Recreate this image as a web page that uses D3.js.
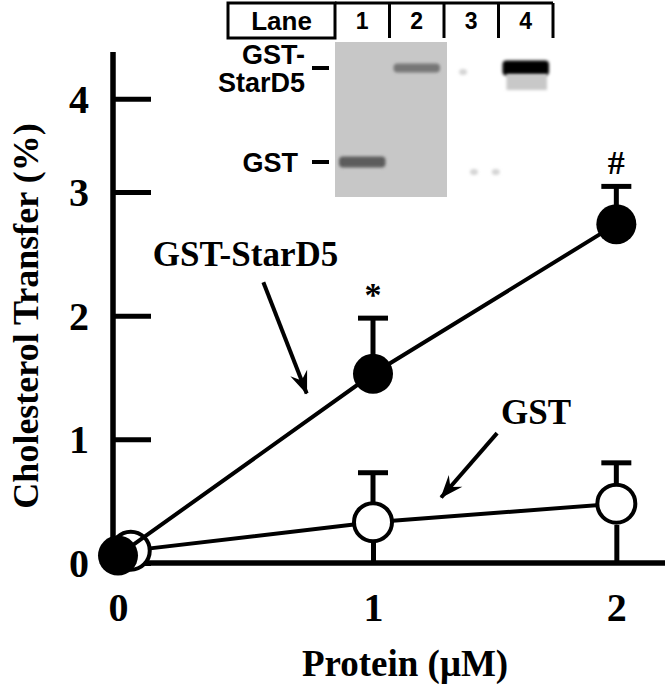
<!DOCTYPE html>
<html>
<head>
<meta charset="utf-8">
<script src="https://cdn.jsdelivr.net/npm/d3@7"></script>
<style>
  body { margin: 0; background: #fff; }
  svg { display: block; }
  .serif { font-family: "Liberation Serif", "Times New Roman", serif; font-weight: bold; }
  .sans { font-family: "Liberation Sans", Arial, sans-serif; font-weight: bold; }
</style>
</head>
<body>
<svg id="chart" width="667" height="684"></svg>
<script>
// data
var xTicks = [0, 1, 2]
var yTicks = [0, 1, 2, 3, 4]

var starX = [0, 1, 2]
var starMean = [0.06, 1.53, 2.74]
var starErr = [0, 0.45, 0.32]
var starNotes = ["", "*", "#"]

var gstX = [0.05, 1, 2]
var gstMean = [0.1, 0.33, 0.48]
var gstErr = [0, 0.40, 0.33]

// inset gel
var lanes = ["1", "2", "3", "4"]
var proteins = ["GST-StarD5", "GST"]
var proteinLabels = [["GST-", "StarD5"], ["GST"]]
var coomassieLanes = ["1", "2"]
var bands = [
  { lane: "1", protein: "GST", tone: "#5c5c5c", h: 11 },
  { lane: "2", protein: "GST-StarD5", tone: "#777777", h: 9 },
  { lane: "4", protein: "GST-StarD5", tone: "#050505", h: 15 }
]

// callouts, in data units
var callouts = [
  { text: "GST-StarD5", at: [0.5, 2.5], from: [0.57, 2.27], to: [0.74, 1.37] },
  { text: "GST", at: [1.67, 1.22], from: [1.51, 1.05], to: [1.28, 0.53] }
]

var svg = d3.select("#chart")
var defs = svg.append("defs")

defs.append("filter").attr("id", "soft")
  .attr("x", "-30%").attr("y", "-100%").attr("width", "160%").attr("height", "300%")
  .append("feGaussianBlur").attr("stdDeviation", 1.8)

defs.append("marker")
  .attr("id", "barb")
  .attr("viewBox", "-24 -10 26 20")
  .attr("refX", 0).attr("refY", 0)
  .attr("markerUnits", "userSpaceOnUse")
  .attr("markerWidth", 26).attr("markerHeight", 20)
  .attr("orient", "auto")
  .append("path")
  .attr("d", "M1,0 L-22,-9 L-14,0 L-22,9 Z")
  .attr("fill", "#000")

// scales (the original axes are slightly uneven, so piecewise)
var x = d3.scaleLinear().domain([0, 1, 2.2]).range([118, 373, 665])
var y = d3.scaleLinear().domain([0, 3, 4.5]).range([563, 192, 52])

// ---- inset ----
var inset = svg.append("g").attr("class", "inset")
var lx = d3.scaleBand().domain(lanes).range([335, 553])
var row = d3.scalePoint().domain(proteins).range([68, 162])

inset.append("rect")
  .attr("x", lx(coomassieLanes[0]))
  .attr("y", 42)
  .attr("width", lx.bandwidth() * coomassieLanes.length + 3)
  .attr("height", 155)
  .attr("fill", "#c7c7c7")

inset.selectAll(".band").data(bands).enter()
  .append("rect")
  .attr("class", "band")
  .attr("x", function (d) { return lx(d.lane) + 4 })
  .attr("y", function (d) { return row(d.protein) - d.h / 2 })
  .attr("width", lx.bandwidth() - 8)
  .attr("height", function (d) { return d.h })
  .attr("rx", 4)
  .attr("fill", function (d) { return d.tone })
  .attr("filter", "url(#soft)")

// smear under the blot band, faint specks in lane 3
inset.append("rect")
  .attr("x", lx("4") + 8)
  .attr("y", row("GST-StarD5") + 6)
  .attr("width", lx.bandwidth() - 14)
  .attr("height", 16)
  .attr("fill", "#c8c8c8")
  .attr("filter", "url(#soft)")
var specks = [["3", "GST-StarD5", 0.35], ["3", "GST", 0.55], ["3", "GST", 0.95]]
inset.selectAll(".speck").data(specks).enter().append("ellipse")
  .attr("cx", function (d) { return lx(d[0]) + lx.bandwidth() * d[2] })
  .attr("cy", function (d) { return row(d[1]) + (d[1] === "GST" ? 10 : 4) })
  .attr("rx", 4).attr("ry", 3)
  .attr("fill", "#d4d4d4")
  .attr("filter", "url(#soft)")

// header row
var hdr = inset.append("g").attr("fill", "none").attr("stroke", "#000").attr("stroke-width", 3)
hdr.append("rect").attr("x", 228).attr("y", 3).attr("width", lx(lanes[0]) - 228).attr("height", 35)
hdr.append("line").attr("x1", lx(lanes[0])).attr("x2", lx.range()[1]).attr("y1", 3).attr("y2", 3)
hdr.selectAll(".sep").data(lanes).enter().append("line")
  .attr("x1", function (d) { return lx(d) + lx.bandwidth() })
  .attr("x2", function (d) { return lx(d) + lx.bandwidth() })
  .attr("y1", 3).attr("y2", 38)

inset.append("text").attr("class", "sans")
  .attr("x", (228 + lx(lanes[0])) / 2).attr("y", 30)
  .attr("text-anchor", "middle").attr("font-size", 26)
  .text("Lane")

inset.selectAll(".lane-num").data(lanes).enter().append("text")
  .attr("class", "sans lane-num")
  .attr("x", function (d) { return lx(d) + lx.bandwidth() / 2 })
  .attr("y", 29).attr("text-anchor", "middle").attr("font-size", 23)
  .text(function (d) { return d })

proteins.forEach(function (p, i) {
  var lines = proteinLabels[i]
  var xr = lines.length > 1 ? 305 : 298
  var t = inset.append("text").attr("class", "sans")
    .attr("text-anchor", "end").attr("font-size", 27)
    .attr("x", xr)
    .attr("y", row(p) + 10 - (lines.length - 1) * 14)
  lines.forEach(function (s, j) {
    t.append("tspan").attr("x", xr).attr("dy", j ? 28 : 0).text(s)
  })
  inset.append("line")
    .attr("x1", 312).attr("x2", 329)
    .attr("y1", row(p)).attr("y2", row(p))
    .attr("stroke", "#000").attr("stroke-width", 4)
})

// ---- axes ----
var yAxis = d3.axisLeft(y).tickValues(yTicks).tickFormat(d3.format("d"))
  .tickSize(-38).tickSizeOuter(0).tickPadding(24)
var xAxis = d3.axisBottom(x).tickValues(xTicks).tickFormat(d3.format("d"))
  .tickSize(-38).tickSizeOuter(0).tickPadding(30)

var gy = svg.append("g").attr("transform", "translate(113,0)").call(yAxis)
gy.select(".domain").attr("d", "M0," + (y(0) + 2.5) + "V" + y(4.5))
var gx = svg.append("g").attr("transform", "translate(0," + y(0) + ")").call(xAxis)
gx.select(".domain").attr("d", "M110.5,0H665")
// the x tick at 0 sits under the y axis and the origin markers
gx.selectAll(".tick line").filter(function (d) { return d === 0 }).remove()

svg.selectAll(".domain").attr("stroke-width", 5.5)
svg.selectAll(".tick line").attr("stroke-width", 5)
svg.selectAll(".tick text").attr("class", "serif").attr("font-size", 40).attr("fill", "#000")
gy.selectAll(".tick text").attr("dy", "0.34em")

// axis titles
svg.append("text").attr("class", "serif")
  .attr("transform", "translate(38,316) rotate(-90)")
  .attr("text-anchor", "middle").attr("font-size", 36)
  .text("Cholesterol Transfer (%)")

svg.append("text").attr("class", "serif")
  .attr("x", 405).attr("y", 676)
  .attr("text-anchor", "middle").attr("font-size", 37)
  .text("Protein (\u03BCM)")

// ---- series ----
var line = d3.line()
  .x(function (d) { return x(d.x) })
  .y(function (d) { return y(d.y) })

function series(xs, means, errs) {
  return xs.map(function (v, i) { return { x: v, y: means[i], e: errs[i], i: i } })
}
var gst = series(gstX, gstMean, gstErr)
var star = series(starX, starMean, starErr)

function drawSeries(data, filled) {
  var g = svg.append("g")
  g.append("path").datum(data).attr("d", line)
    .attr("fill", "none").attr("stroke", "#000").attr("stroke-width", 4)
  var bars = data.filter(function (d) { return d.e > 0 })
  g.selectAll(".err").data(bars).enter().append("line")
    .attr("x1", function (d) { return x(d.x) }).attr("x2", function (d) { return x(d.x) })
    .attr("y1", function (d) { return y(d.y) })
    .attr("y2", function (d) { return y(d.y + d.e) })
    .attr("stroke", "#000").attr("stroke-width", 5)
  g.selectAll(".cap").data(bars).enter().append("line")
    .attr("x1", function (d) { return x(d.x) - 15 }).attr("x2", function (d) { return x(d.x) + 15 })
    .attr("y1", function (d) { return y(d.y + d.e) })
    .attr("y2", function (d) { return y(d.y + d.e) })
    .attr("stroke", "#000").attr("stroke-width", 5)
  g.selectAll("circle").data(data).enter().append("circle")
    .attr("cx", function (d) { return x(d.x) })
    .attr("cy", function (d) { return y(d.y) })
    .attr("r", filled ? 20 : 19)
    .attr("fill", filled ? "#000" : "#fff")
    .attr("stroke", "#000").attr("stroke-width", filled ? 0 : 4)
  return g
}

drawSeries(gst, false)
var gStar = drawSeries(star, true)

gStar.selectAll(".note").data(star.filter(function (d) { return starNotes[d.i] })).enter()
  .append("text").attr("class", "serif")
  .attr("x", function (d) { return x(d.x) })
  .attr("y", function (d) { return y(d.y + d.e) - 12 })
  .attr("text-anchor", "middle").attr("font-size", 34)
  .text(function (d) { return starNotes[d.i] })

// ---- callouts ----
callouts.forEach(function (c) {
  svg.append("text").attr("class", "serif")
    .attr("x", x(c.at[0])).attr("y", y(c.at[1]) + 12)
    .attr("text-anchor", "middle").attr("font-size", 35)
    .text(c.text)
  svg.append("line")
    .attr("x1", x(c.from[0])).attr("y1", y(c.from[1]))
    .attr("x2", x(c.to[0])).attr("y2", y(c.to[1]))
    .attr("stroke", "#000").attr("stroke-width", 4)
    .attr("marker-end", "url(#barb)")
})
</script>
</body>
</html>
